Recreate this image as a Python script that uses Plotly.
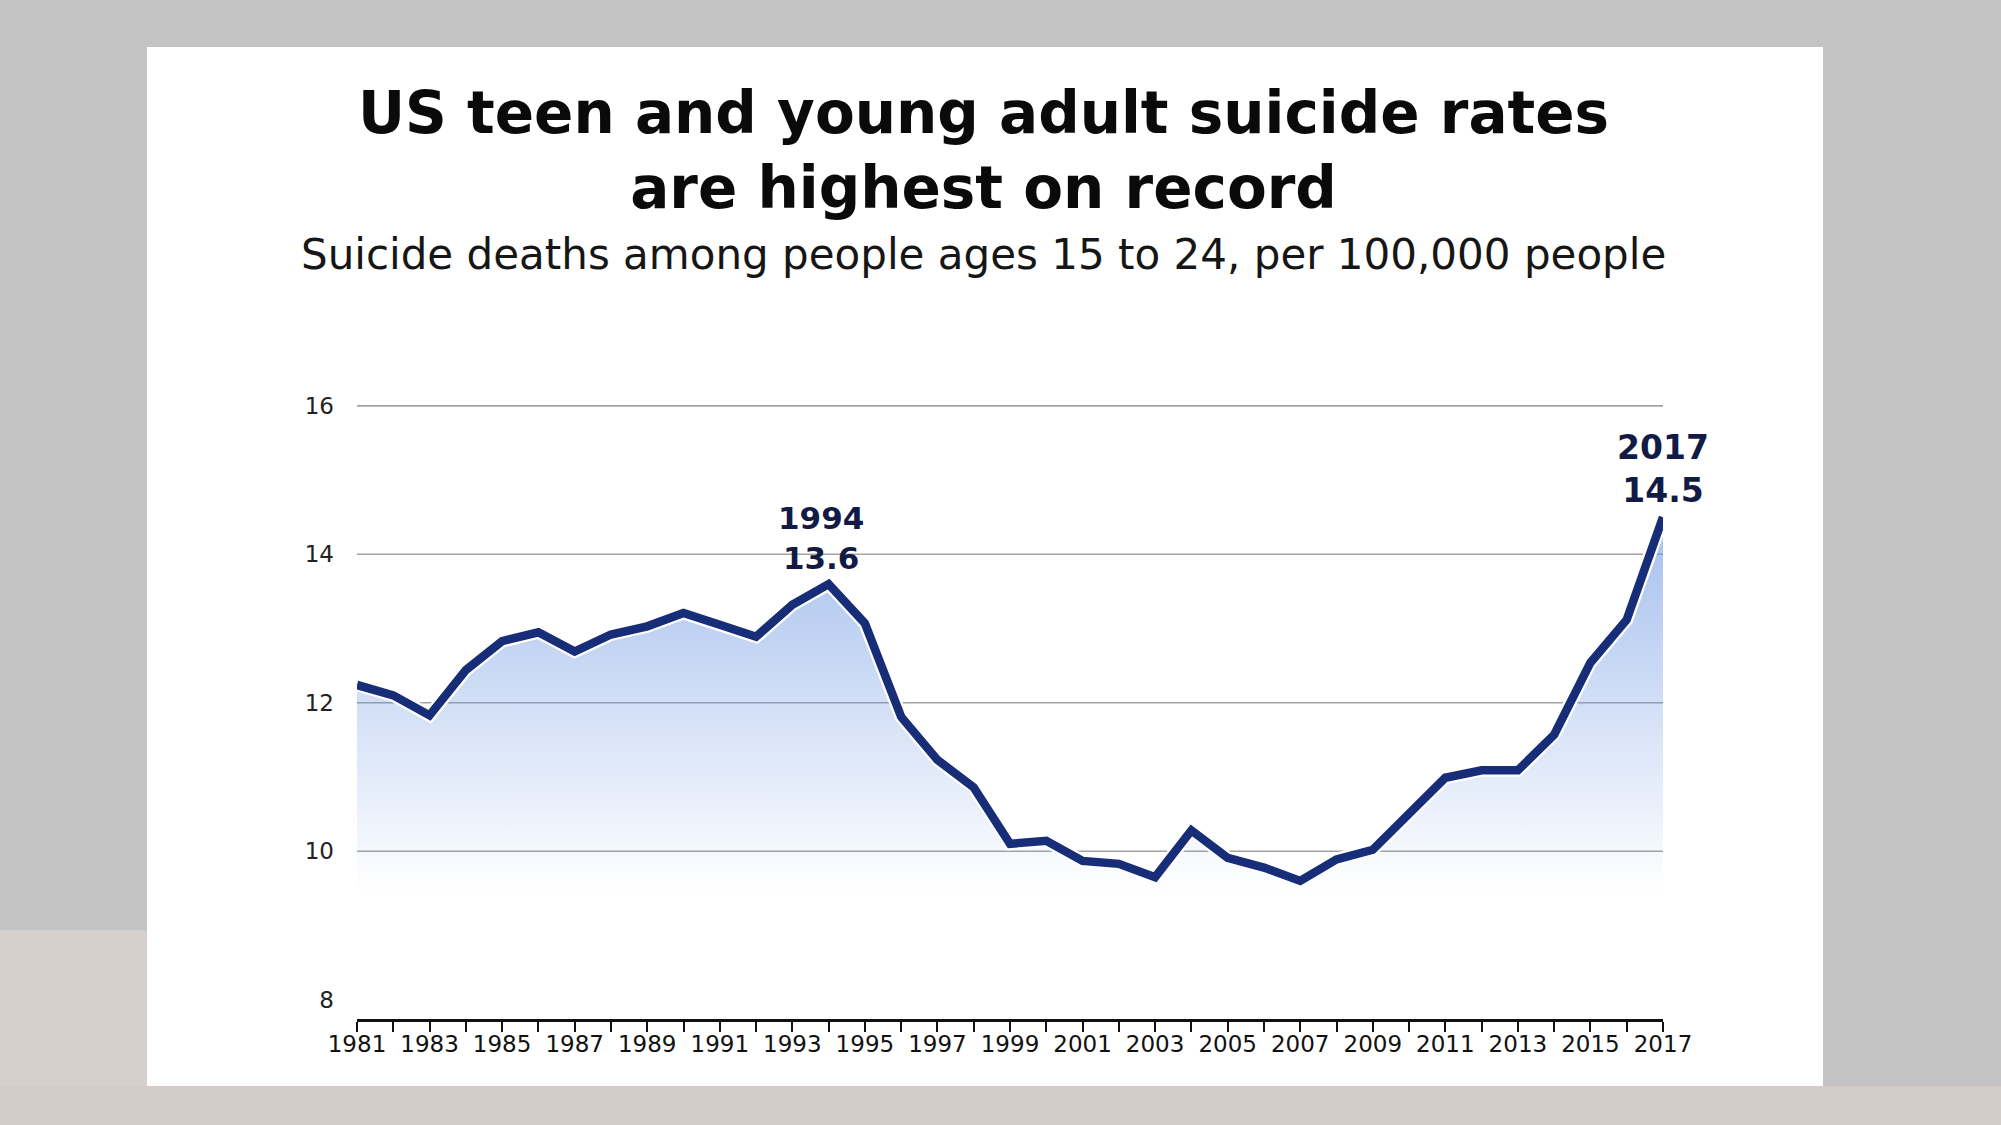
import plotly.graph_objects as go

# data (suicide deaths per 100,000, ages 15-24)
years = list(range(1981, 2018))
rates = [12.24, 12.10, 11.83, 12.44, 12.83, 12.95, 12.69, 12.92, 13.03, 13.21,
         13.05, 12.89, 13.32, 13.6, 13.07, 11.81, 11.23, 10.86, 10.10, 10.14,
         9.87, 9.83, 9.65, 10.28, 9.91, 9.78, 9.60, 9.89, 10.02, 10.52,
         10.99, 11.09, 11.09, 11.57, 12.54, 13.12, 14.5]
y_ticks = [8, 10, 12, 14, 16]
grid_vals = [10, 12, 14, 16]
x_labels = [str(y) if y % 2 == 1 else "" for y in years]
callouts = [(1994, 13.6), (2017, 14.5)]

title = "US teen and young adult suicide rates<br>are highest on record"
subtitle = "Suicide deaths among people ages 15 to 24, per 100,000 people"

W, H = 2001, 1125
L, R, T, B = 357, 338, 391, 106
PW, PH = W - L - R, H - T - B

def px2x(p):
    return (p - L) / PW

def px2y(p):
    return (H - B - p) / PH

NAVY = "#182d78"
TEXT_NAVY = "#121a46"
FONT = "DejaVu Sans"

fig = go.Figure()

# area under the line, fading out just under 10
fig.add_trace(go.Scatter(
    x=years, y=rates, mode="lines", line=dict(width=0),
    fill="tozeroy",
    fillgradient=dict(type="vertical", start=9.45, stop=14.5,
                      colorscale=[[0, "rgba(100,145,225,0)"],
                                  [1, "rgba(100,145,225,0.58)"]]),
    hoverinfo="skip", showlegend=False))

# white halo + main line
fig.add_trace(go.Scatter(x=years, y=rates, mode="lines",
                         line=dict(color="white", width=13),
                         hoverinfo="skip", showlegend=False))
fig.add_trace(go.Scatter(x=years, y=rates, mode="lines",
                         line=dict(color=NAVY, width=8.5),
                         showlegend=False))

shapes = []
# background bits: beige photo showing at the bottom
shapes.append(dict(type="rect", xref="paper", yref="paper", layer="below",
                   x0=px2x(0), x1=px2x(W), y0=px2y(H), y1=px2y(1086),
                   fillcolor="#d4ccc9", line_width=0))
shapes.append(dict(type="rect", xref="paper", yref="paper", layer="below",
                   x0=px2x(0), x1=px2x(147), y0=px2y(1086), y1=px2y(930),
                   fillcolor="#d6d0cd", line_width=0))
# white card
shapes.append(dict(type="rect", xref="paper", yref="paper", layer="below",
                   x0=px2x(147), x1=px2x(1823), y0=px2y(1086), y1=px2y(47),
                   fillcolor="white", line_width=0))
# gridlines (none at 8)
for g in grid_vals:
    shapes.append(dict(type="line", xref="paper", yref="y", layer="below",
                       x0=0, x1=1, y0=g, y1=g,
                       line=dict(color="#a3a3a3", width=1.6)))

annotations = [
    dict(text=title, x=px2x(983), y=px2y(150), xref="paper", yref="paper",
         showarrow=False, xanchor="center", yanchor="middle",
         font=dict(family=FONT, size=58, color="#0a0a0a", weight="bold")),
    dict(text=subtitle, x=px2x(983), y=px2y(254), xref="paper", yref="paper",
         showarrow=False, xanchor="center", yanchor="middle",
         font=dict(family=FONT, size=42, color="#161616")),
]

# callout labels: year on top, value below
label_style = {1994: (-8, 46, 31), 2017: (0, 48, 33)}
for yr, val in callouts:
    dx, dy, fsize = label_style[yr]
    annotations.append(dict(text=f"{yr}<br>{val}", x=yr, y=val,
                            xref="x", yref="y", showarrow=False,
                            xshift=dx, yshift=dy, yanchor="middle",
                            font=dict(family=FONT, size=fsize,
                                      color=TEXT_NAVY, weight="bold")))

fig.update_layout(
    width=W, height=H,
    margin=dict(l=L, r=R, t=T, b=B, pad=0),
    paper_bgcolor="#c3c3c3",
    plot_bgcolor="white",
    shapes=shapes,
    annotations=annotations,
    showlegend=False,
    xaxis=dict(range=[1981, 2017], tickvals=years, ticktext=x_labels,
               ticks="outside", ticklen=10, tickwidth=2, tickcolor="#111",
               ticklabelstandoff=-8,
               showline=True, linewidth=3, linecolor="#111",
               showgrid=False, zeroline=False,
               tickfont=dict(family=FONT, size=23, color="#111")),
    yaxis=dict(range=[7.74, 16.2], tickvals=y_ticks,
               showgrid=False, zeroline=False, showline=False,
               ticks="", ticklabelstandoff=22,
               tickfont=dict(family=FONT, size=23, color="#222")),
)

# page has a default body margin, drop it so the figure sits at 0,0
fig.write_html("out.html", config={"displayModeBar": False},
               post_script="document.body.style.margin='0';"
                           "document.body.style.overflow='hidden';")
